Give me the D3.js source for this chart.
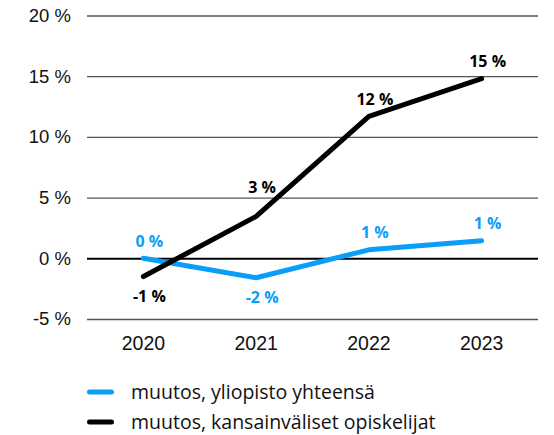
<!DOCTYPE html>
<html>
<head>
<meta charset="utf-8">
<script src="https://cdn.jsdelivr.net/npm/d3@7"></script>
<style>
  body { margin: 0; background: #fff; }
  svg { display: block; font-family: "Open Sans", Lato, sans-serif; }
</style>
</head>
<body>
<svg id="chart" width="554" height="435"></svg>
<script>
var years = ['2020', '2021', '2022', '2023'];
var yTicks = [-5, 0, 5, 10, 15, 20];
var totalValues = [0, -1.6, 0.7, 1.45];
var totalLabels = ['0 %', '-2 %', '1 %', '1 %'];
var intlValues = [-1.5, 3.45, 11.7, 14.8];
var intlLabels = ['-1 %', '3 %', '12 %', '15 %'];
var seriesNames = ['muutos, yliopisto yhteensä', 'muutos, kansainväliset opiskelijat'];
var seriesColors = ['#0a9ef8', '#000'];

var svg = d3.select('#chart');

var x = d3.scaleBand().domain(years).range([87, 538]);
var y = d3.scaleLinear().domain([-5, 20]).range([319, 15.5]);

//************************ grid + y axis *************************/
var yAxis = svg.append('g')
  .attr('transform', 'translate(87,0)')
  .call(d3.axisLeft(y).tickValues(yTicks).tickSize(-451).tickFormat(d => d + ' %'));
yAxis.select('.domain').remove();
yAxis.selectAll('.tick line')
  .attr('stroke', d => d === 0 ? '#000' : '#555')
  .attr('stroke-width', d => d === 0 ? 2 : 1.3);
yAxis.selectAll('.tick text')
  .attr('x', -16)
  .attr('font-size', 18.5)
  .attr('fill', '#111');

//************************ x axis *************************/
var xAxis = svg.append('g')
  .attr('transform', 'translate(0,319)')
  .call(d3.axisBottom(x).tickSize(0));
xAxis.select('.domain').remove();
xAxis.selectAll('.tick text')
  .attr('dy', 0)
  .attr('y', 31)
  .attr('font-size', 19.5)
  .attr('fill', '#111');

//************************ lines *************************/
var line = d3.line()
  .x((d, i) => x(years[i]) + x.bandwidth() / 2)
  .y(d => y(d));

var series = [
  { values: totalValues, labels: totalLabels, color: seriesColors[0] },
  { values: intlValues, labels: intlLabels, color: seriesColors[1] }
];

svg.selectAll('path.series')
  .data(series)
  .enter().append('path')
  .attr('class', 'series')
  .attr('d', d => line(d.values))
  .attr('fill', 'none')
  .attr('stroke', d => d.color)
  .attr('stroke-width', 5)
  .attr('stroke-linecap', 'round')
  .attr('stroke-linejoin', 'round');

// label placement: 'a' above, 'b' below, 'h' high above (steep line)
var place = [['a', 'b', 'a', 'a'], ['b', 'h', 'a', 'a']];
var placeDy = { a: -11.5, b: 25, h: -23.5 };

series.forEach(function(s, si) {
  svg.append('g').selectAll('text')
    .data(s.values)
    .enter().append('text')
    .attr('x', (d, i) => x(years[i]) + x.bandwidth() / 2 + 6)
    .attr('y', (d, i) => y(d) + placeDy[place[si][i]])
    .attr('text-anchor', 'middle')
    .attr('font-size', 16)
    .attr('font-weight', 'bold')
    .attr('fill', s.color)
    .text((d, i) => s.labels[i]);
});

//************************ legend *************************/
var legend = svg.append('g').selectAll('g')
  .data(seriesNames)
  .enter().append('g')
  .attr('transform', (d, i) => 'translate(0,' + (392 + i * 30) + ')');

legend.append('line')
  .attr('x1', 89.5).attr('x2', 111.5)
  .attr('stroke', (d, i) => seriesColors[i])
  .attr('stroke-width', 5)
  .attr('stroke-linecap', 'round');

legend.append('text')
  .attr('x', 131)
  .attr('dy', '0.35em')
  .attr('font-size', 19.5)
  .attr('fill', '#111')
  .text(d => d);
</script>
</body>
</html>
